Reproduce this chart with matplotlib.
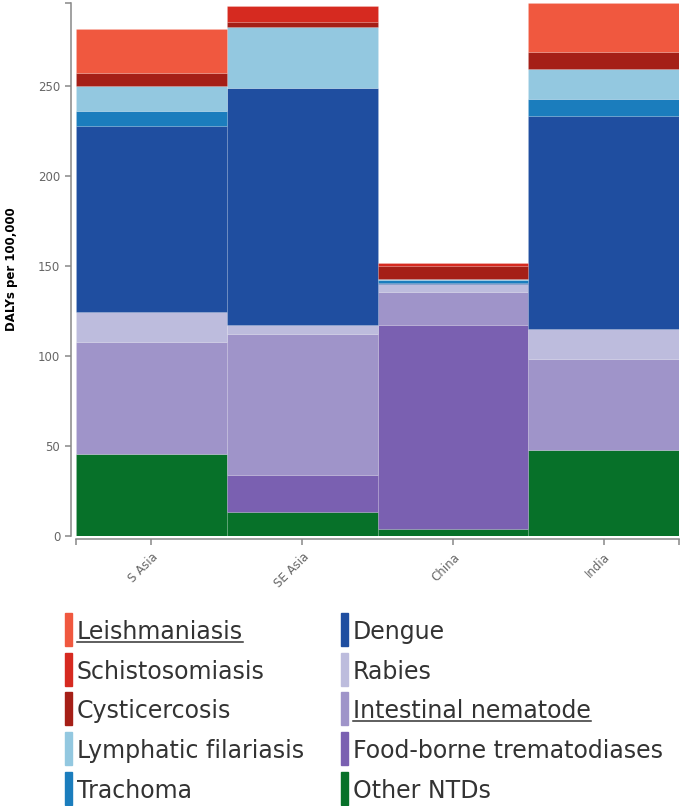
import matplotlib
matplotlib.use("Agg")
import matplotlib.pyplot as plt
import numpy as np
from matplotlib.patches import Rectangle

# DALYs per 100,000 by region, stacked from the bottom up
regions = ['S Asia', 'SE Asia', 'China', 'India']
other_ntds = [45.4, 13.3, 3.7, 47.8]
foodborne = [0.0, 20.4, 113.5, 0.0]
intestinal = [62.2, 78.7, 18.5, 50.7]
rabies = [17.0, 4.8, 4.0, 16.3]
dengue = [103.0, 131.3, 1.0, 118.2]
trachoma = [8.1, 0.0, 1.2, 9.8]
lymphatic = [13.9, 34.1, 0.6, 16.5]
cysticercosis = [7.6, 3.0, 7.5, 9.4]
schisto = [0.0, 8.5, 1.5, 0.0]
leish = [24.3, 0.0, 0.0, 27.2]

series = [
    ('Other NTDs', other_ntds, '#077129'),
    ('Food-borne trematodiases', foodborne, '#7a60b1'),
    ('Intestinal nematode', intestinal, '#9f94c9'),
    ('Rabies', rabies, '#bdbcdd'),
    ('Dengue', dengue, '#1f4ea0'),
    ('Trachoma', trachoma, '#1b7dbd'),
    ('Lymphatic filariasis', lymphatic, '#93c8e0'),
    ('Cysticercosis', cysticercosis, '#a51f17'),
    ('Schistosomiasis', schisto, '#d62a20'),
    ('Leishmaniasis', leish, '#f0583f'),
]
colors = {name: c for name, _, c in series}

W, H = 685, 806
fig = plt.figure(figsize=(W / 100, H / 100), dpi=100)
ax = fig.add_axes([76 / W, (H - 536) / H, 603 / W, 533 / H])

x = np.arange(len(regions))
bottom = np.zeros(len(regions))
for name, vals, col in series:
    vals = np.array(vals)
    ax.bar(x, vals, width=1.0, bottom=bottom, color=col,
           edgecolor=(1, 1, 1, 0.15), linewidth=0.5)
    bottom += vals

ax.set_xlim(-0.5, len(regions) - 0.5)
ax.set_ylim(0, bottom.max())

grey = '#888888'
for side in ['top', 'right']:
    ax.spines[side].set_visible(False)
ax.spines['left'].set_position(('outward', 3.6))
ax.spines['bottom'].set_position(('outward', 2.2))
for side in ['left', 'bottom']:
    ax.spines[side].set_color(grey)
    ax.spines[side].set_linewidth(1.1)

ax.set_yticks([0, 50, 100, 150, 200, 250])
ax.set_yticks([bottom.max()], minor=True)
ax.set_xticks(x)
ax.set_xticklabels(regions, rotation=45, ha='right', va='top', rotation_mode='anchor')
ax.set_xticks([-0.5, len(regions) - 0.5], minor=True)
ax.tick_params(which='both', length=4.3, width=1.1, color=grey, labelcolor='#666666',
               labelsize=8.5)
ax.tick_params(axis='x', pad=4)
ax.set_ylabel('DALYs per 100,000', fontsize=8.5, fontweight='bold')
ax.yaxis.set_label_coords(-0.096, 0.5)

# legend drawn in pixel space
lg = fig.add_axes([0, 0, 1, 1], zorder=-1)
lg.set_xlim(0, W)
lg.set_ylim(H, 0)
lg.axis('off')

left_col = ['Leishmaniasis', 'Schistosomiasis', 'Cysticercosis', 'Lymphatic filariasis', 'Trachoma']
right_col = ['Dengue', 'Rabies', 'Intestinal nematode', 'Food-borne trematodiases', 'Other NTDs']
underlined = ['Leishmaniasis', 'Intestinal nematode']

renderer = fig.canvas.get_renderer()
for names, sx, tx in [(left_col, 65, 77), (right_col, 341, 353)]:
    for i, name in enumerate(names):
        top = 613 + 39.7 * i
        lg.add_patch(Rectangle((sx, top), 7.5, 33, color=colors[name]))
        base = top + 26
        t = lg.text(tx, base, name, fontsize=17, color='#333333', va='baseline', ha='left')
        if name in underlined:
            bb = t.get_window_extent(renderer)
            lg.plot([bb.x0, bb.x1], [base + 2.8, base + 2.8], color='#333333', lw=1.1)

fig.savefig('out.png', dpi=100)
